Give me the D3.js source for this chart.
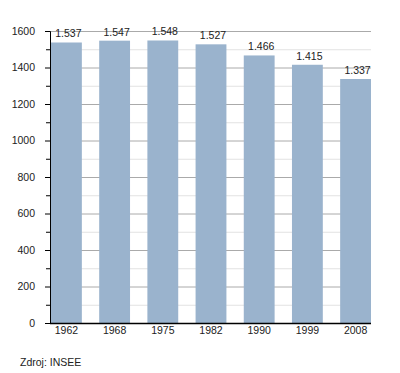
<!DOCTYPE html>
<html>
<head>
<meta charset="utf-8">
<script src="https://cdn.jsdelivr.net/npm/d3@7"></script>
<style>
  body { margin: 0; background: #fff; }
  svg { display: block; font-family: "Liberation Sans", Arial, sans-serif; }
</style>
</head>
<body>
<svg id="graphique" width="400" height="373"></svg>
<script>
// données : population par année de recensement
const years = ['1962', '1968', '1975', '1982', '1990', '1999', '2008'];
const population = [1537, 1547, 1548, 1527, 1466, 1415, 1337];
const yTicks = [0, 200, 400, 600, 800, 1000, 1200, 1400, 1600];
const minorTicks = [100, 300, 500, 700, 900, 1100, 1300, 1500];
const sourceText = 'Zdroj: INSEE';

const svg = d3.select('#graphique');
const plotLeft = 50, plotRight = 371, plotTop = 31, plotBottom = 323;
const fontSize = 10.5;

const x = d3.scaleBand()
    .domain(years)
    .range([plotLeft + 1, plotRight])
    .paddingInner(0.36)
    .paddingOuter(0);

const y = d3.scaleLinear()
    .domain([0, 1600])
    .range([plotBottom, plotTop]);

// lignes de grille secondaires
svg.append('g')
    .selectAll('line')
    .data(minorTicks)
    .enter().append('line')
    .attr('x1', plotLeft).attr('x2', plotRight)
    .attr('y1', d => y(d) + 0.5).attr('y2', d => y(d) + 0.5)
    .attr('stroke', '#e2e2e2');

// lignes de grille principales
svg.append('g')
    .selectAll('line')
    .data(yTicks.slice(1))
    .enter().append('line')
    .attr('x1', plotLeft).attr('x2', plotRight)
    .attr('y1', d => y(d) + 0.5).attr('y2', d => y(d) + 0.5)
    .attr('stroke', '#aaaaaa');

// barres
svg.append('g')
    .selectAll('rect')
    .data(population)
    .enter().append('rect')
    .attr('x', (d, i) => x(years[i]))
    .attr('y', d => y(d))
    .attr('width', x.bandwidth())
    .attr('height', d => plotBottom - y(d))
    .attr('fill', '#9ab3cd');

// étiquettes des valeurs
const fmt = d => d3.format(',')(d).replace(',', '.');
svg.append('g')
    .selectAll('text')
    .data(population)
    .enter().append('text')
    .attr('x', (d, i) => x(years[i]) + x.bandwidth() / 2 + 2)
    .attr('y', d => y(d) - 5)
    .attr('text-anchor', 'middle')
    .attr('font-size', fontSize)
    .attr('fill', '#222')
    .text(fmt);

// axe Y
const yAxis = svg.append('g')
    .attr('transform', `translate(${plotLeft},0)`)
    .call(d3.axisLeft(y).tickValues(yTicks).tickFormat(d3.format('d')).tickSize(5).tickPadding(10));
yAxis.selectAll('text').attr('font-size', fontSize).attr('fill', '#222').attr('font-family', 'Liberation Sans, Arial, sans-serif');
yAxis.select('.domain').attr('stroke', '#000');
svg.append('g')
    .selectAll('line')
    .data(minorTicks)
    .enter().append('line')
    .attr('x1', plotLeft - 4).attr('x2', plotLeft)
    .attr('y1', d => y(d) + 0.5).attr('y2', d => y(d) + 0.5)
    .attr('stroke', '#000');

// axe X
const xAxis = svg.append('g')
    .attr('transform', `translate(0,${plotBottom})`)
    .call(d3.axisBottom(x).tickSize(0).tickPadding(4));
xAxis.select('.domain').attr('d', `M${plotLeft},0.5H${plotRight}`).attr('stroke', '#000').attr('stroke-width', 1.5);
xAxis.selectAll('text').attr('font-size', fontSize).attr('fill', '#222').attr('font-family', 'Liberation Sans, Arial, sans-serif');

// source
svg.append('text')
    .attr('x', 20)
    .attr('y', 366)
    .attr('font-size', fontSize)
    .attr('fill', '#222')
    .text(sourceText);
</script>
</body>
</html>
